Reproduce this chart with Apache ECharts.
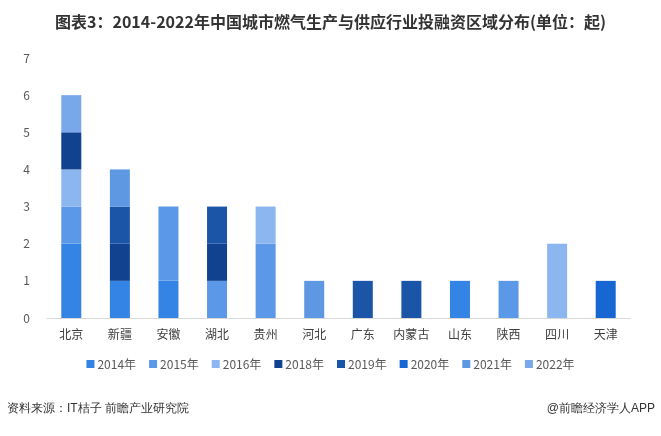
<!DOCTYPE html>
<html>
<head>
<meta charset="utf-8">
<script src="https://cdn.jsdelivr.net/npm/echarts@6/dist/echarts.min.js"></script>
<style>
  html, body { margin: 0; padding: 0; background: #fff; }
  #chart { width: 661px; height: 436px; }
</style>
</head>
<body>
<div id="chart"></div>
<script>
var regions = ['北京', '新疆', '安徽', '湖北', '贵州', '河北', '广东', '内蒙古', '山东', '陕西', '四川', '天津'];
var years = ['2014年', '2015年', '2016年', '2018年', '2019年', '2020年', '2021年', '2022年'];
var y2014 = [2, 1, 1, 0, 0, 0, 0, 0, 1, 0, 0, 0];
var y2015 = [1, 0, 2, 1, 2, 0, 0, 0, 0, 1, 0, 0];
var y2016 = [1, 0, 0, 0, 1, 0, 0, 0, 0, 0, 2, 0];
var y2018 = [1, 1, 0, 1, 0, 0, 0, 0, 0, 0, 0, 0];
var y2019 = [0, 1, 0, 1, 0, 0, 1, 1, 0, 0, 0, 0];
var y2020 = [0, 0, 0, 0, 0, 0, 0, 0, 0, 0, 0, 1];
var y2021 = [0, 1, 0, 0, 0, 1, 0, 0, 0, 0, 0, 0];
var y2022 = [1, 0, 0, 0, 0, 0, 0, 0, 0, 0, 0, 0];
var yearData = [y2014, y2015, y2016, y2018, y2019, y2020, y2021, y2022];
var colors = ['#3384E5', '#5B98E8', '#8CB6EF', '#11428F', '#1B55A8', '#1767D2', '#5E98E2', '#79A8EA'];

var font = '"Noto Sans CJK SC", "Microsoft YaHei", sans-serif';
var myChart = echarts.init(document.getElementById('chart'));

var series = [];
for (var i = 0; i < years.length; i++) {
  series.push({
    name: years[i],
    type: 'bar',
    stack: 'total',
    barWidth: 20,
    itemStyle: { color: colors[i] },
    // 0 值不画
    data: yearData[i].map(function (v) { return v === 0 ? null : v; })
  });
}

myChart.setOption({
  animation: false,
  textStyle: { fontFamily: font },
  color: colors,
  title: {
    text: '图表3：2014-2022年中国城市燃气生产与供应行业投融资区域分布(单位：起)',
    left: 'center',
    top: 9,
    textStyle: { fontSize: 16, fontWeight: 'bold', color: '#333', fontFamily: font }
  },
  legend: {
    bottom: 61,
    left: 'center',
    itemWidth: 8,
    itemHeight: 8,
    itemGap: 13,
    icon: 'rect',
    textStyle: { fontSize: 12, color: '#595959', fontFamily: font, padding: [0, 0, 0, -2] },
    data: years
  },
  grid: { left: 47, right: 31, top: 58, bottom: 118 },
  xAxis: {
    type: 'category',
    data: regions,
    axisLine: { lineStyle: { color: '#D9D9D9', width: 1 } },
    axisTick: { show: false },
    axisLabel: { fontSize: 12, color: '#404040', margin: 10, interval: 0 }
  },
  yAxis: {
    type: 'value',
    min: 0,
    max: 7,
    interval: 1,
    axisLine: { show: false },
    axisTick: { show: false },
    splitLine: { show: false },
    axisLabel: { fontSize: 12, color: '#595959', margin: 17 }
  },
  graphic: [
    {
      type: 'text', left: 7, top: 403,
      style: { text: '资料来源：IT桔子 前瞻产业研究院', fontSize: 12, fill: '#333', font: '12px ' + font }
    },
    {
      type: 'text', right: 6, top: 403,
      style: { text: '@前瞻经济学人APP', fontSize: 12, fill: '#333', font: '12px ' + font }
    }
  ],
  series: series
});
</script>
</body>
</html>
